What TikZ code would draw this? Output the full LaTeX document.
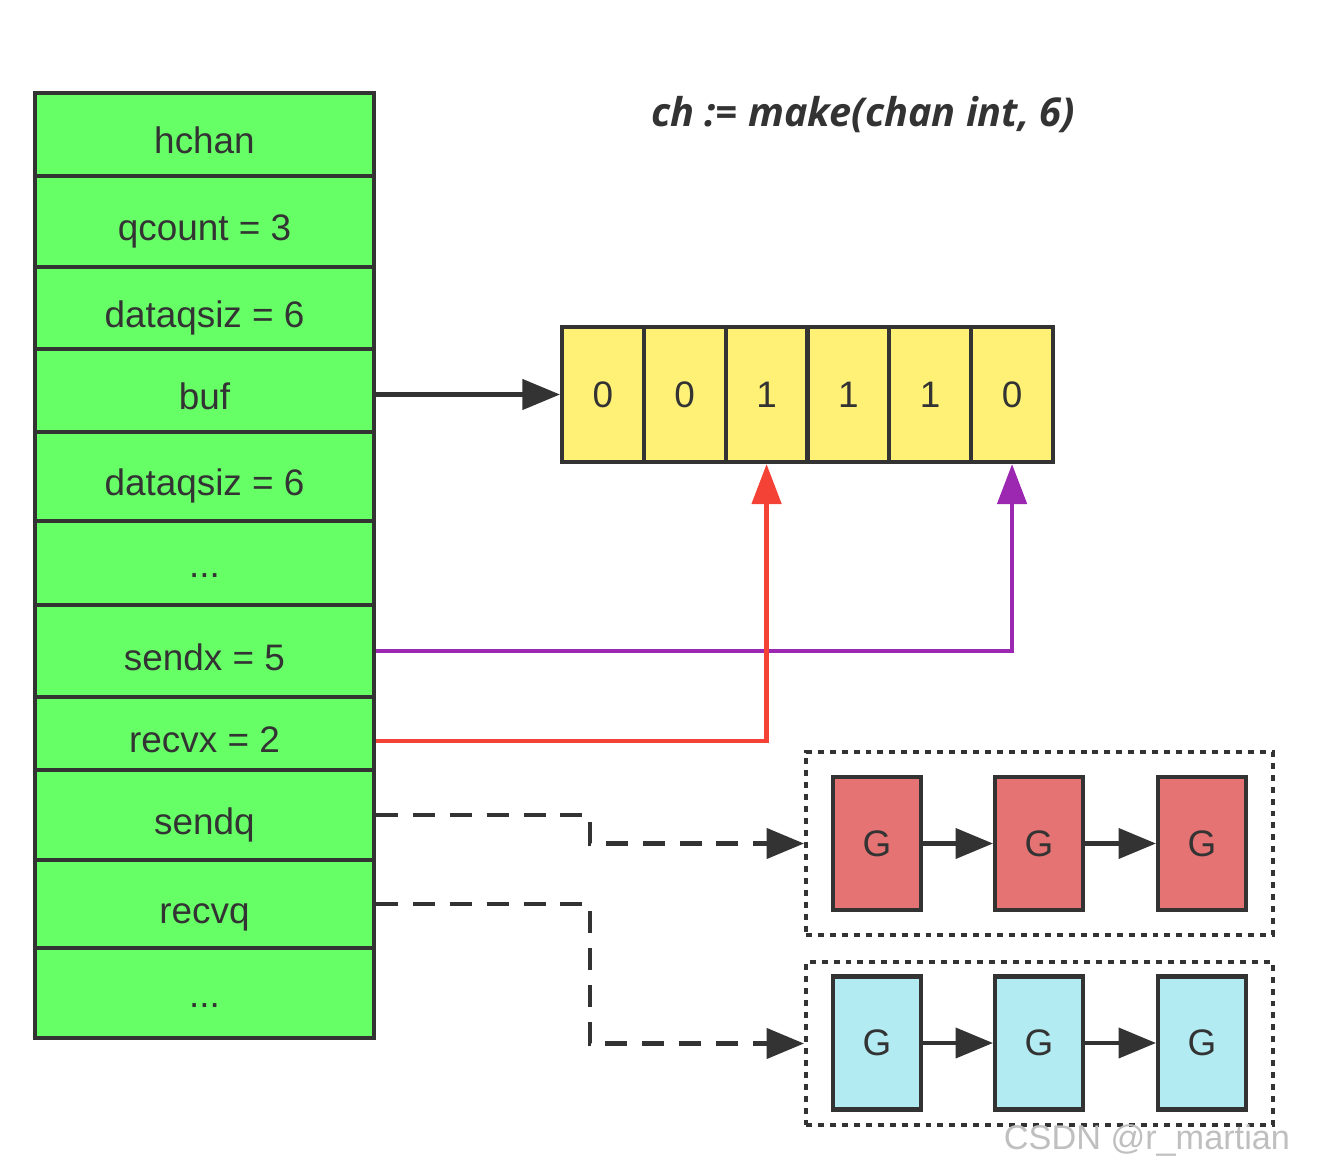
\documentclass[tikz,border=0pt]{standalone}
\usepackage{fontspec}
\setmainfont{Liberation Sans}
\newfontfamily\titlefont{Open Sans}
\usetikzlibrary{positioning}
\usetikzlibrary{arrows.meta}
\definecolor{ink}{HTML}{333333}
\definecolor{fieldgreen}{HTML}{66FF66}
\definecolor{slotyellow}{HTML}{FFF176}
\definecolor{sendfill}{HTML}{E57373}
\definecolor{recvfill}{HTML}{B2EBF2}
\definecolor{recvline}{HTML}{F44336}
\definecolor{sendline}{HTML}{9C27B0}
\tikzstyle{field} = [rectangle, draw=ink, fill=fieldgreen, line width=2.3pt, minimum width=6.78cm, inner sep=0pt, text=ink, font=\fontsize{21}{25}\selectfont, text height=22pt, text depth=0pt]
\tikzstyle{slot} = [rectangle, draw=ink, fill=slotyellow, line width=2.3pt, minimum width=1.637cm, minimum height=2.7cm, inner sep=0pt, text=ink, font=\fontsize{21}{25}\selectfont]
\tikzstyle{gsend} = [rectangle, draw=ink, fill=sendfill, line width=2.3pt, minimum width=1.76cm, minimum height=2.66cm, inner sep=0pt, text=ink, font=\fontsize{21}{25}\selectfont]
\tikzstyle{grecv} = [gsend, fill=recvfill]
\tikzstyle{queue} = [rectangle, draw=ink, line width=2.3pt, dash pattern=on 3.4pt off 3.4pt, minimum width=9.34cm]
\tikzstyle{ptr} = [draw=ink, line width=2.4pt, -{Triangle[length=0.75cm,width=0.6cm]}]
\tikzstyle{waitptr} = [ptr, line width=2.6pt, dash pattern=on 12.5pt off 8.5pt]
\tikzstyle{recvptr} = [ptr, line width=2.7pt, draw=recvline, -{Triangle[length=0.8cm,width=0.58cm,fill=recvline]}]
\tikzstyle{sendptr} = [ptr, line width=2.7pt, draw=sendline, -{Triangle[length=0.8cm,width=0.58cm,fill=sendline]}]

\begin{document}
\begin{tikzpicture}[x=0.02cm, y=-0.02cm]
	\useasboundingbox (0,0) rectangle (1320,1176);

	\node (title) at (863,115) [text=ink, font=\titlefont\bfseries\itshape\fontsize{22.6}{26}\selectfont] {ch := make(chan int, 6)};

	% hchan struct
	\node (hchan) at (204.5,134.5) [field, minimum height=1.66cm] {hchan};
	\node (qcount) at (204.5,221.5) [field, minimum height=1.82cm] {qcount = 3};
	\node (dataqsiz) at (204.5,308) [field, minimum height=1.64cm] {dataqsiz = 6};
	\node (buf) at (204.5,390.5) [field, minimum height=1.66cm] {buf};
	\node (dataqsiz2) at (204.5,476.5) [field, minimum height=1.78cm] {dataqsiz = 6};
	\node (more) at (204.5,563) [field, minimum height=1.68cm, text height=16pt] {...};
	\node (sendx) at (204.5,651) [field, minimum height=1.84cm] {sendx = 5};
	\node (recvx) at (204.5,733.5) [field, minimum height=1.46cm] {recvx = 2};
	\node (sendq) at (204.5,815) [field, minimum height=1.8cm] {sendq};
	\node (recvq) at (204.5,904) [field, minimum height=1.76cm] {recvq};
	\node (more2) at (204.5,993) [field, minimum height=1.8cm, text height=16pt] {...};

	% ring buffer
	\foreach \v [count=\i] in {0,0,1,1,1,0}
		\node (c\i) at ({562+81.83*(\i-0.5)},394.5) [slot] {\v};

	\draw [ptr] (buf.east |- c1.west) -- (c1.west);
	\draw [sendptr] (sendx.east) -| (c6.south);
	\draw [recvptr] ([yshift=-0.15cm]recvx.east) -| (c3.south);

	% wait queues
	\node (sendqbox) at (1039.5,843.5) [queue, minimum height=3.66cm] {};
	\node (recvqbox) at (1039.5,1043.5) [queue, minimum height=3.26cm] {};

	\node (s1) at (877,843.5) [gsend] {G};
	\node (s2) at (1039,843.5) [gsend] {G};
	\node (s3) at (1202,843.5) [gsend] {G};
	\draw [ptr] (s1) -- (s2);
	\draw [ptr] (s2) -- (s3);

	\node (r1) at (877,1043) [grecv] {G};
	\node (r2) at (1039,1043) [grecv] {G};
	\node (r3) at (1202,1043) [grecv] {G};
	\draw [ptr] (r1) -- (r2);
	\draw [ptr] (r2) -- (r3);

	\draw [waitptr] (sendq.east) -- (590,815) -- (590,843.5) -- (sendqbox.west);
	\draw [waitptr] (recvq.east) -- (590,904) -- (590,1043.5) -- (recvqbox.west);

	\node (mark) at (1147,1140) [text=black!25, font=\fontsize{19.5}{23}\selectfont] {CSDN @r\_martian};
\end{tikzpicture}
\end{document}
